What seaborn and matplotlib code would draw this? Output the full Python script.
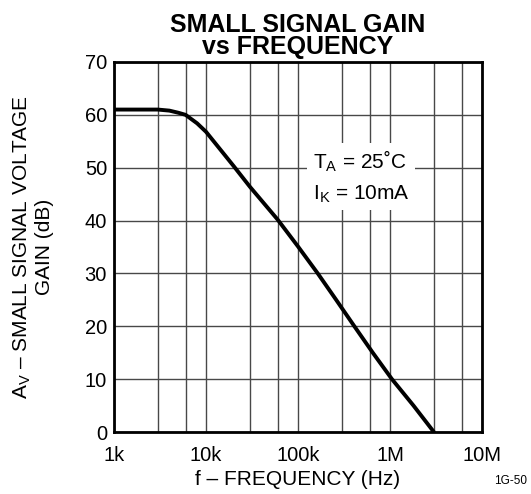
import pandas as pd
import matplotlib
matplotlib.use('Agg')
import matplotlib.pyplot as plt
import seaborn as sns

# data
freq_hz = [1e3, 2e3, 3e3, 4e3, 5e3, 6e3, 8e3, 1e4, 1.5e4, 2e4, 3e4, 6e4,
           1e5, 1.64e5, 2.6e5, 4.1e5, 6.5e5, 1.05e6, 1.8e6, 3e6]
gain_db = [61, 61, 61, 60.8, 60.4, 60.0, 58.4, 56.8, 53.0, 50.3, 46.4, 40.2,
           35.1, 30.0, 25.0, 20.0, 15.0, 10.0, 5.0, 0.0]

major_ticks = [1e3, 1e4, 1e5, 1e6, 1e7]
major_labels = ['1k', '10k', '100k', '1M', '10M']
minor_ticks = [3e3, 6e3, 3e4, 6e4, 3e5, 6e5, 3e6, 6e6]
y_ticks = [0, 10, 20, 30, 40, 50, 60, 70]

df = pd.DataFrame({'freq': freq_hz, 'gain': gain_db})

sns.set_style('white')
plt.rcParams['font.family'] = ['Liberation Sans', 'DejaVu Sans']
plt.rcParams['mathtext.fontset'] = 'custom'
plt.rcParams['mathtext.rm'] = 'Liberation Sans'
plt.rcParams['text.color'] = 'black'
plt.rcParams['axes.labelcolor'] = 'black'

fig = plt.figure(figsize=(5.31, 4.94), dpi=100)
ax = fig.add_axes([0.2147, 0.1255, 0.693, 0.749])

sns.lineplot(data=df, x='freq', y='gain', ax=ax, color='black', linewidth=2.8,
             sort=False, estimator=None, zorder=3)

ax.set_xscale('log')
ax.set_xlim(1e3, 1e7)
ax.set_ylim(0, 70)
ax.set_xticks(major_ticks)
ax.set_xticklabels(major_labels)
ax.set_xticks(minor_ticks, minor=True)
ax.set_xticklabels([], minor=True)
ax.set_yticks(y_ticks)
ax.tick_params(which='both', length=0, labelsize=14.5, colors='black')
ax.tick_params(axis='x', pad=10)
ax.tick_params(axis='y', pad=5)
ax.grid(True, which='both', color='#484848', linewidth=1.0)

for sp in ax.spines.values():
    sp.set_visible(True)
    sp.set_color('black')
    sp.set_linewidth(2.0)

ax.set_xlabel('f \u2013 FREQUENCY (Hz)', fontsize=15, labelpad=4)
ax.set_ylabel('A$_\\mathregular{V}$ \u2013 SMALL SIGNAL VOLTAGE\nGAIN (dB)',
              fontsize=15, labelpad=22, linespacing=1.15)
ax.set_title('SMALL SIGNAL GAIN\nvs FREQUENCY', fontsize=18, fontweight='bold',
             pad=6, linespacing=0.9, color='black')

ax.text(0.54, 0.69, 'T$_\\mathregular{A}$ = 25\u02daC\nI$_\\mathregular{K}$ = 10mA',
        transform=ax.transAxes, fontsize=15, ha='left', va='center', linespacing=1.55,
        bbox=dict(facecolor='white', edgecolor='none', pad=4), zorder=4)

fig.text(0.962, 0.026, '1G-50', fontsize=8.5, ha='center', va='center')

fig.savefig('out.png', dpi=100)
